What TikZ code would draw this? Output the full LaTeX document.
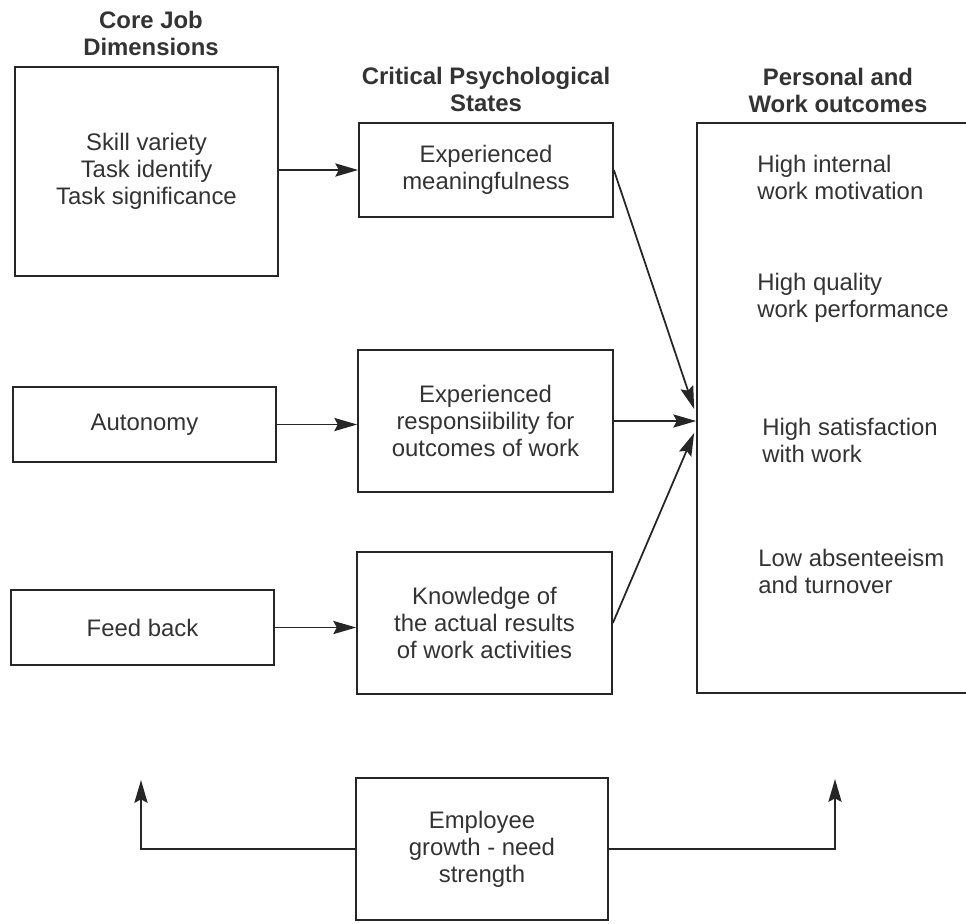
\documentclass[tikz,border=0pt]{standalone}
\usepackage{fontspec}
\setmainfont{Liberation Sans}
\usepackage{tikz}
\usetikzlibrary{calc,arrows.meta}

\begin{document}
\begin{tikzpicture}[x=0.02cm,y=-0.02cm,
	every node/.style={font=\fontsize{13.6}{15.4}\selectfont, text=black!80},
	box/.style={rectangle, draw=black!85, line width=1pt, inner sep=0, align=center},
	head/.style={align=center, inner sep=0, font=\fontsize{13.6}{15.4}\selectfont\bfseries},
	outlab/.style={align=left, inner sep=0, anchor=west},
	link/.style={draw=black!85, line width=1pt, -{Stealth[length=13pt,width=7.5pt,inset=2pt]}}]

		\useasboundingbox (0,0) rectangle (966,923);
		\clip (0,0) rectangle (966,923);

		%core job dimensions
		\node[head] at (151,33.5) (h1) {Core Job\\Dimensions};
		\node[box, minimum width=5.26cm, minimum height=4.18cm] at (146.5,171.5) (skill) {Skill variety\\Task identify\\Task significance};
		\node[box, minimum width=5.26cm, minimum height=1.5cm] at (144.5,424.5) (auto) {Autonomy};
		\node[box, minimum width=5.26cm, minimum height=1.5cm] at (142.5,627.5) (feed) {Feed back};

		%critical psychological states
		\node[head] at (486,89) (h2) {Critical Psychological\\States};
		\node[box, minimum width=5.08cm, minimum height=1.88cm] at (486,170) (mean) {Experienced\\meaningfulness};
		\node[box, minimum width=5.1cm, minimum height=2.84cm] at (485.5,421) (resp) {Experienced\\responsiibility for\\outcomes of work};
		\node[box, minimum width=5.1cm, minimum height=2.84cm] at (484.5,623) (know) {Knowledge of\\the actual results\\of work activities};

		%outcomes
		\node[head] at (838,90) (h3) {Personal and\\Work outcomes};
		\node[box, minimum width=6.06cm, minimum height=11.4cm] at (848.5,408) (out) {};
		\node[outlab] at (757,177) (o1) {High internal\\work motivation};
		\node[outlab] at (757,298) (o2) {High quality\\work performance};
		\node[outlab] at (762,440) (o3) {High satisfaction\\with work};
		\node[outlab] at (758,571) (o4) {Low absenteeism\\and turnover};

		%growth need strength
		\node[box, minimum width=5.04cm, minimum height=2.84cm] at (482,849) (grow) {Employee\\growth - need\\strength};

		%links
		\draw[link] (skill.east |- mean.west) -- (mean.west);
		\draw[link] (auto.east) -- (auto.east -| resp.west);
		\draw[link] (feed.east) -- (feed.east -| know.west);
		\coordinate (meet) at (out.west |- resp.east);
		\draw[link] (mean.east) -- ([xshift=-0.04cm,yshift=0.24cm]meet);
		\draw[link] (resp.east) -- (meet);
		\draw[link] (know.east) -- ([xshift=-0.04cm,yshift=-0.24cm]meet);

		\coordinate (lefttip) at (141,780);
		\coordinate (righttip) at (835,779);
		\draw[link] (grow.west) -| (lefttip);
		\draw[link] (grow.east) -| (righttip);
	\end{tikzpicture}
\end{document}
